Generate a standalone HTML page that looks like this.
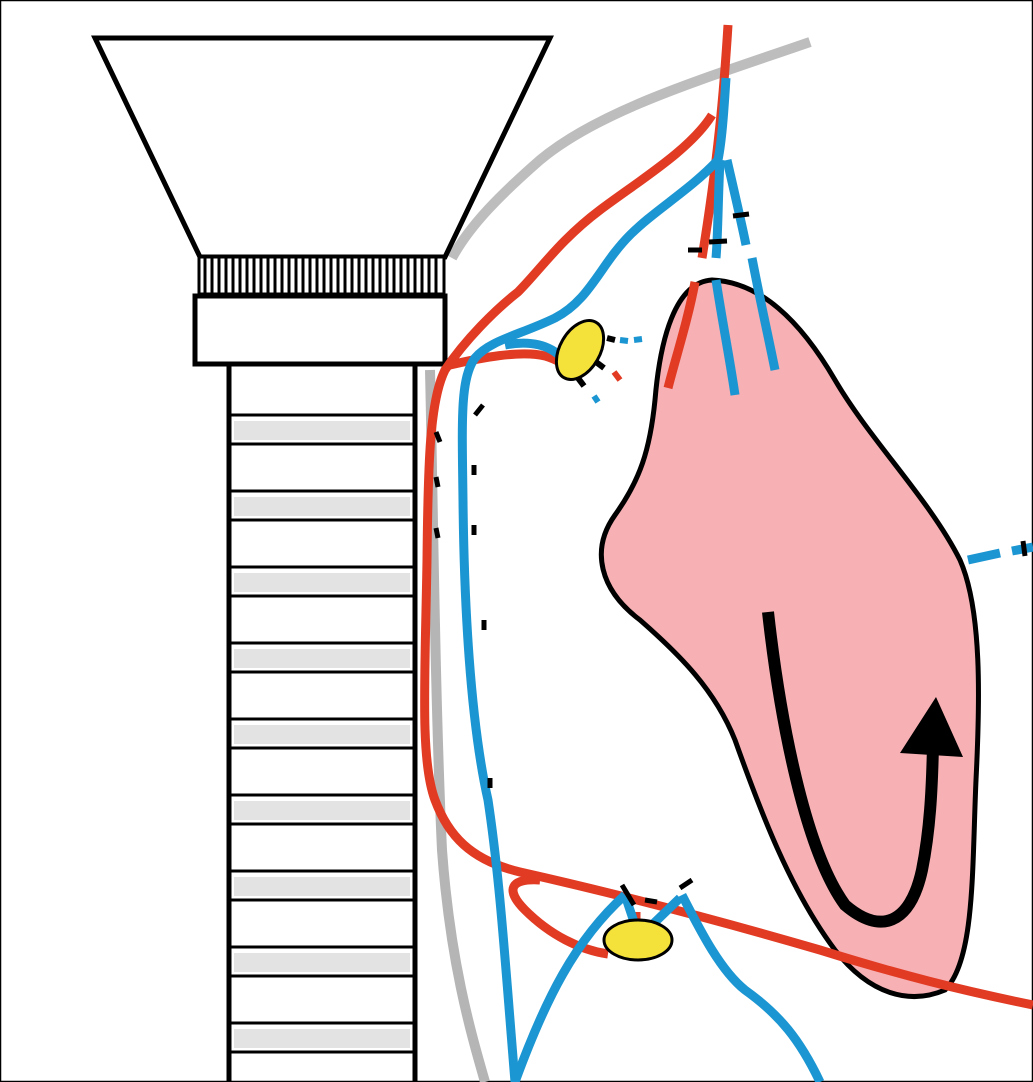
<!DOCTYPE html>
<html><head><style>html,body{margin:0;padding:0;background:#fff}svg{display:block}</style></head>
<body>
<svg width="1033" height="1082" viewBox="0 0 1033 1082" xmlns="http://www.w3.org/2000/svg">
<rect x="0.5" y="0.5" width="1032" height="1081" fill="#fff" stroke="#000" stroke-width="1.5"/>
<path d="M810,42 C700,80 600,110 540,160 C500,195 470,225 452,258" fill="none" stroke="#bdbdbd" stroke-width="10"/>
<polygon points="95,38 550,38 445,257 200,257" fill="#fff" stroke="#000" stroke-width="5"/>
<rect x="199" y="257" width="245" height="37" fill="#fff" stroke="#000" stroke-width="3"/>
<g stroke="#000" stroke-width="3">
<path d="M205,257V294 M212,257V294 M219,257V294 M226,257V294 M233,257V294 M240,257V294 M247,257V294 M254,257V294 M261,257V294 M268,257V294 M275,257V294 M282,257V294 M289,257V294 M296,257V294 M303,257V294 M310,257V294 M317,257V294 M324,257V294 M331,257V294 M338,257V294 M345,257V294 M352,257V294 M359,257V294 M366,257V294 M373,257V294 M380,257V294 M387,257V294 M394,257V294 M401,257V294 M408,257V294 M415,257V294 M422,257V294 M429,257V294 M436,257V294"/>
</g>
<rect x="195" y="296" width="250" height="68" fill="#fff" stroke="#000" stroke-width="5"/>
<path d="M229,366V1082 M415,366V1082" stroke="#000" stroke-width="5"/>
<g fill="#e3e3e3" stroke="none">
<rect x="234" y="421" width="176" height="19"/><rect x="234" y="497" width="176" height="19"/>
<rect x="234" y="573" width="176" height="19"/><rect x="234" y="649" width="176" height="19"/>
<rect x="234" y="725" width="176" height="19"/><rect x="234" y="801" width="176" height="19"/>
<rect x="234" y="877" width="176" height="19"/><rect x="234" y="953" width="176" height="19"/>
<rect x="234" y="1029" width="176" height="19"/>
</g>
<g stroke="#000" stroke-width="3">
<path d="M229,415H415 M229,444H415 M229,491H415 M229,520H415 M229,567H415 M229,596H415 M229,643H415 M229,672H415 M229,719H415 M229,748H415 M229,795H415 M229,824H415 M229,871H415 M229,900H415 M229,947H415 M229,976H415 M229,1023H415 M229,1052H415"/>
</g>
<path d="M430,370 C433,500 435,700 442,850 C450,960 470,1030 485,1082" fill="none" stroke="#b5b5b5" stroke-width="10"/>
<path d="M712,280 C760,282 800,320 835,380 C870,440 930,500 960,560 C982,610 980,700 976,780 C972,870 975,960 945,990 C910,1005 870,995 835,950 C790,890 760,810 735,740 C715,690 680,655 640,620 C600,590 590,550 615,515 C640,480 650,450 655,400 C660,340 675,282 712,280 Z" fill="#f7b0b4" stroke="#000" stroke-width="5"/>
<path d="M768,612 C780,720 805,850 845,905 C880,935 910,925 922,870 C930,830 932,790 933,745" fill="none" stroke="#000" stroke-width="12"/>
<polygon points="900,753 936,697 963,757" fill="#000"/>
<g fill="none" stroke="#e23b24" stroke-width="9">
<path d="M728,25 C724,90 718,160 702,258"/>
<path d="M712,115 C690,150 640,180 600,210 C560,240 540,270 518,292 C495,310 465,340 445,370 C430,400 428,460 427,560 C425,680 420,760 435,800 C448,835 470,860 520,872 C600,890 700,915 820,950 C900,975 960,990 1033,1005"/>
<path d="M450,365 C480,358 520,350 545,356 C558,360 565,365 568,370"/>
<path d="M540,880 C510,878 505,890 525,910 C550,935 580,950 608,954"/>
<path d="M695,282 C688,320 675,360 668,388"/>
<path d="M636,912 V930"/>
</g>
<g fill="none" stroke="#1c96d2" stroke-width="9">
<path d="M726,78 C724,110 722,140 718,160"/>
<path d="M718,160 C690,190 655,210 630,235 C600,265 590,300 555,318 C520,335 490,340 475,358 C460,378 462,420 463,500 C464,600 470,720 488,800 C500,880 505,960 515,1082"/>
<path d="M505,345 C530,340 550,345 562,358"/>
<path d="M720,160 C718,200 718,235 716,258"/>
<path d="M727,160 C735,195 742,225 746,245"/>
<path d="M716,280 C722,320 730,360 735,395"/>
<path d="M752,258 C760,300 768,335 775,370"/>
<path d="M515,1082 C545,1000 575,940 625,895"/>
<path d="M682,895 C700,930 720,970 745,990 C780,1015 800,1040 820,1082"/>
<path d="M626,898 L635,925 M680,898 L652,925"/>
<path d="M968,560 L1000,553 M1012,551 L1033,547"/>
</g>
<g fill="none" stroke-width="6">
<path d="M607,338 L615,340" stroke="#000"/><path d="M620,340 L628,341 M634,340 L642,339" stroke="#1c96d2"/>
<path d="M596,362 L604,368" stroke="#000"/><path d="M614,372 L620,380" stroke="#e23b24"/>
<path d="M578,378 L584,386" stroke="#000"/><path d="M594,396 L598,402" stroke="#1c96d2"/>
</g>
<g stroke="#000" stroke-width="5">
<path d="M688,250 L702,250 M709,242 L727,241 M733,216 L749,214"/>
<path d="M475,415 L483,405 M436,432 L440,442 M474,465 L474,475 M436,477 L438,487 M474,525 L474,535 M436,528 L438,538 M484,620 L484,630 M490,778 L490,788"/>
<path d="M622,885 L634,905 M645,900 L657,902 M680,888 L692,880"/>
<path d="M1023,541 L1025,556"/>
</g>
<ellipse cx="580" cy="350" rx="20" ry="32" transform="rotate(30 580 350)" fill="#f4e23a" stroke="#000" stroke-width="3"/>
<ellipse cx="638" cy="940" rx="34" ry="20" fill="#f4e23a" stroke="#000" stroke-width="3"/>
</svg>
</body></html>
